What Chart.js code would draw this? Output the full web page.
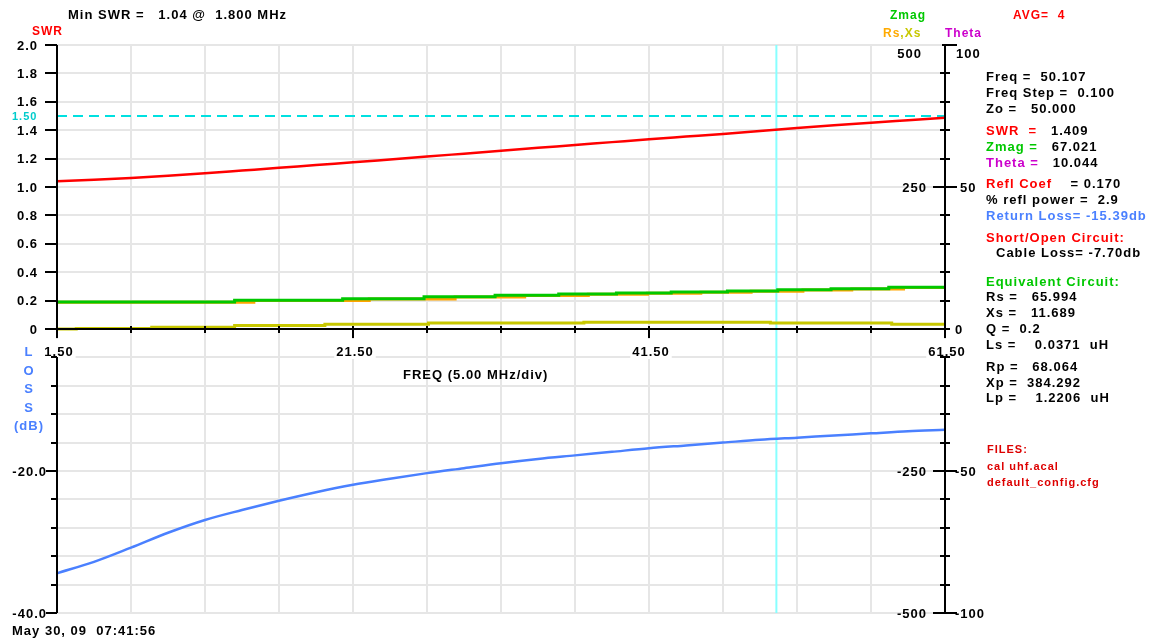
<!DOCTYPE html>
<html>
<head>
<meta charset="utf-8">
<title>SWR / Return Loss sweep</title>
<script src="https://cdn.jsdelivr.net/npm/chart.js@4.4.0/dist/chart.umd.min.js"></script>
<style>
    html, body { margin: 0; padding: 0; background: #fff; }
    #wrap { position: relative; width: 1151px; height: 641px; overflow: hidden; background: #fff; }
    #sweep { position: absolute; left: 0; top: 0; }
    .t {
        position: absolute;
        font: bold 13px "Liberation Sans", Arial, sans-serif;
        letter-spacing: 1px;
        white-space: pre;
        line-height: 16px;
        color: #000;
    }
    .s { font-size: 12px; }
    .xs { font-size: 11px; }
    .red { color: #ff0000; }
    .dred { color: #dd0000; }
    .green { color: #00c800; }
    .mag { color: #cc00cc; }
    .blue { color: #4a80ff; }
    .orange { color: #ffaa00; }
    .olive { color: #c8c800; }
    .cyan { color: #00cccc; }
    .loss { left: 0; width: 58px; text-align: center; }
</style>
</head>
<body>
<div id="wrap">
    <canvas id="sweep" width="1151" height="641"></canvas>

    <div class="t" style="left:68px;top:7px">Min SWR =   1.04 @  1.800 MHz</div>
    <div class="t s red" style="left:32px;top:23px">SWR</div>
    <div class="t s green" style="left:890px;top:7px">Zmag</div>
    <div class="t s red" style="left:1013px;top:7px">AVG=  4</div>
    <div class="t s" style="left:883px;top:25px"><span class="orange">Rs</span><span class="olive">,Xs</span></div>
    <div class="t s mag" style="left:945px;top:25px">Theta</div>

    <div class="t xs cyan" style="left:12px;top:108px">1.50</div>

    <div class="t blue loss" style="top:344px">L</div>
    <div class="t blue loss" style="top:363px">O</div>
    <div class="t blue loss" style="top:381px">S</div>
    <div class="t blue loss" style="top:400px">S</div>
    <div class="t blue loss" style="top:418px">(dB)</div>

    <div class="t" style="left:403px;top:367px">FREQ (5.00 MHz/div)</div>
    <div class="t" style="left:12px;top:623px">May 30, 09  07:41:56</div>

    <!-- marker readout panel -->
    <div class="t" style="left:986px;top:69px">Freq =  50.107</div>
    <div class="t" style="left:986px;top:85px">Freq Step =  0.100</div>
    <div class="t" style="left:986px;top:101px">Zo =   50.000</div>
    <div class="t" style="left:986px;top:123px"><span class="red">SWR  =</span>   1.409</div>
    <div class="t" style="left:986px;top:139px"><span class="green">Zmag =</span>   67.021</div>
    <div class="t" style="left:986px;top:155px"><span class="mag">Theta =</span>   10.044</div>
    <div class="t" style="left:986px;top:176px"><span class="red">Refl Coef</span>    = 0.170</div>
    <div class="t" style="left:986px;top:192px">% refl power =  2.9</div>
    <div class="t blue" style="left:986px;top:208px">Return Loss= -15.39db</div>
    <div class="t red" style="left:986px;top:230px">Short/Open Circuit:</div>
    <div class="t" style="left:996px;top:245px">Cable Loss= -7.70db</div>
    <div class="t green" style="left:986px;top:274px">Equivalent Circuit:</div>
    <div class="t" style="left:986px;top:289px">Rs =   65.994</div>
    <div class="t" style="left:986px;top:305px">Xs =   11.689</div>
    <div class="t" style="left:986px;top:321px">Q =  0.2</div>
    <div class="t" style="left:986px;top:337px">Ls =    0.0371  uH</div>
    <div class="t" style="left:986px;top:359px">Rp =   68.064</div>
    <div class="t" style="left:986px;top:375px">Xp =  384.292</div>
    <div class="t" style="left:986px;top:390px">Lp =    1.2206  uH</div>
    <div class="t xs dred" style="left:987px;top:441px">FILES:</div>
    <div class="t xs dred" style="left:987px;top:458px">cal uhf.acal</div>
    <div class="t xs dred" style="left:987px;top:474px">default_config.cfg</div>
</div>

<script>
// Sweep readings (MHz)
const freq = [1.5, 4, 6.5, 9, 11.5, 14, 16.5, 19, 21.5, 24, 26.5, 29, 31.5,
              34, 36.5, 39, 41.5, 44, 46.5, 49, 51.5, 54, 56.5, 59, 61.5];
const swr = [1.041, 1.051, 1.063, 1.079, 1.097, 1.116, 1.135, 1.155, 1.174, 1.194, 1.214, 1.235, 1.256,
             1.276, 1.296, 1.316, 1.336, 1.355, 1.374, 1.395, 1.416, 1.435, 1.453, 1.470, 1.487];
const returnLoss = [-34.4, -32.8, -30.8, -28.7, -26.9, -25.5, -24.2, -23.0, -21.95, -21.1, -20.3, -19.6, -18.9,
                    -18.3, -17.8, -17.3, -16.8, -16.4, -16.0, -15.6, -15.3, -15.0, -14.7, -14.4, -14.2];

// Impedance traces are quantized, so they are kept as steps (start freq, ohms)
const zmagFreq = [1.5, 13.5, 20.8, 26.3, 31.1, 35.4, 39.3, 43.0, 46.8, 50.2, 53.8, 57.7, 61.5];
const zmag = [47.5, 50.5, 53.3, 56.9, 59.3, 61.6, 63.4, 65.1, 66.9, 69.2, 71.0, 73.4, 73.4];
const rsFreq = [1.5, 14.8, 22.6, 28.4, 33.1, 37.4, 41.4, 45.0, 48.4, 51.9, 55.2, 58.7, 61.5];
const rs = [47.0, 50.0, 52.8, 56.4, 58.8, 61.1, 62.9, 64.6, 66.4, 68.7, 70.5, 72.9, 72.9];
const xsFreq = [1.5, 2.8, 7.9, 13.5, 19.6, 26.6, 37.1, 49.7, 57.9, 61.5];
const xs = [0, 1, 3, 6, 8.5, 10.5, 12, 10.5, 8.5, 8.5];

const cursorFreq = 50.107;
const swrLimit = 1.5;

// Axis ticks and labels
const freqGrid = [1.5, 6.5, 11.5, 16.5, 21.5, 26.5, 31.5, 36.5, 41.5, 46.5, 51.5, 56.5, 61.5];
const freqLabels = ['1.50', '21.50', '41.50', '61.50'];
const swrTicks = [0, 0.2, 0.4, 0.6, 0.8, 1.0, 1.2, 1.4, 1.6, 1.8, 2.0];
const swrLabels = ['0', '0.2', '0.4', '0.6', '0.8', '1.0', '1.2', '1.4', '1.6', '1.8', '2.0'];
const lossTicks = [-4, -8, -12, -16, -20, -24, -28, -32, -36, -40];
const lossLabels = ['-20.0', '-40.0'];
const zTicks = [500, 450, 400, 350, 300, 250, 200, 150, 100, 50, 0, -50, -100, -150, -200, -250, -300, -350, -400, -450, -500];
const zLabels = ['500', '250', '-250', '-500'];
const thetaLabels = ['100', '50', '0', '-50', '-100'];

function pts(xv, yv) {
    return xv.map((x, i) => ({ x: x, y: yv[i] }));
}

const FONT = 'bold 13px "Liberation Sans", Arial, sans-serif';

function text(ctx, str, px, py, align) {
    ctx.textAlign = align;
    ctx.fillText(str, px, py + 4.6);
}

// Grid, axes and tick labels drawn from the chart's own scales
const sweepFrame = {
    id: 'sweepFrame',
    beforeDatasetsDraw(chart) {
        const { ctx, chartArea: a } = chart;
        const { x, ySwr, yLoss } = chart.scales;
        ctx.save();
        ctx.strokeStyle = '#e6e6e6';
        ctx.lineWidth = 2;
        ctx.beginPath();
        freqGrid.forEach(f => {
            const px = Math.round(x.getPixelForValue(f));
            ctx.moveTo(px, a.top);
            ctx.lineTo(px, a.bottom);
        });
        swrTicks.forEach(v => {
            const py = Math.round(ySwr.getPixelForValue(v));
            ctx.moveTo(a.left, py);
            ctx.lineTo(a.right, py);
        });
        lossTicks.forEach(v => {
            const py = Math.round(yLoss.getPixelForValue(v));
            ctx.moveTo(a.left, py);
            ctx.lineTo(a.right, py);
        });
        ctx.stroke();
        ctx.restore();
    },
    afterDatasetsDraw(chart) {
        const { ctx, chartArea: a } = chart;
        const { x, ySwr, yLoss, yZ, yTheta } = chart.scales;
        const y0 = Math.round(ySwr.getPixelForValue(0));
        const lowTop = Math.round(yLoss.getPixelForValue(lossTicks[0]));
        const L = a.left, R = a.right;

        ctx.save();
        ctx.font = FONT;
        ctx.letterSpacing = '1px';
        ctx.fillStyle = '#000';
        ctx.strokeStyle = '#000';
        ctx.lineWidth = 2;

        // frequency labels sit on white boxes between the two panels
        freqLabels.forEach(lbl => {
            const px = x.getPixelForValue(parseFloat(lbl)) + 2;
            const w = ctx.measureText(lbl).width;
            ctx.fillStyle = '#fff';
            ctx.fillRect(px - w / 2 - 2, y0 + 10, w + 4, lowTop - y0 - 8);
            ctx.fillStyle = '#000';
            text(ctx, lbl, px, y0 + 22, 'center');
        });

        ctx.beginPath();
        // frequency axis
        ctx.moveTo(L, y0);
        ctx.lineTo(R, y0);
        freqGrid.forEach(f => {
            const px = Math.round(x.getPixelForValue(f));
            const major = freqLabels.includes(f.toFixed(2));
            ctx.moveTo(px, y0 - 3);
            ctx.lineTo(px, y0 + (major ? 9 : 4));
        });

        // left axis: SWR above, loss below
        ctx.moveTo(L, a.top);
        ctx.lineTo(L, y0 + 8);
        swrTicks.forEach(v => {
            const py = Math.round(ySwr.getPixelForValue(v));
            ctx.moveTo(L - 12, py);
            ctx.lineTo(L, py);
        });
        ctx.moveTo(L, lowTop);
        ctx.lineTo(L, a.bottom);
        lossTicks.forEach(v => {
            const py = Math.round(yLoss.getPixelForValue(v));
            ctx.moveTo(L - (lossLabels.includes(v.toFixed(1)) ? 11 : 6), py);
            ctx.lineTo(L, py);
        });

        // right axis: impedance / theta
        ctx.moveTo(R, a.top);
        ctx.lineTo(R, y0 + 4);
        ctx.moveTo(R, lowTop);
        ctx.lineTo(R, a.bottom);
        zTicks.forEach(v => {
            const py = Math.round(yZ.getPixelForValue(v));
            if (py > y0 + 4 && py < lowTop) return;
            let l = 5, r = 5;
            if (v === 500) { l = 3; r = 12; }
            if (Math.abs(v) === 250 || v === -500) { l = 12; r = 12; }
            ctx.moveTo(R - l, py);
            ctx.lineTo(R + r, py);
        });
        ctx.stroke();

        swrTicks.forEach((v, i) => {
            text(ctx, swrLabels[i], L - 19, ySwr.getPixelForValue(v), 'right');
        });
        lossLabels.forEach(lbl => {
            text(ctx, lbl, L - 10, yLoss.getPixelForValue(parseFloat(lbl)), 'right');
        });

        zLabels.forEach(lbl => {
            const v = parseFloat(lbl);
            let py = yZ.getPixelForValue(v);
            if (v === 500) py += 8;
            text(ctx, lbl, R - (v === 500 ? 23 : 18), py, 'right');
        });
        thetaLabels.forEach(lbl => {
            const v = parseFloat(lbl);
            let py = yTheta.getPixelForValue(v);
            let px = R + 10;
            if (v === 100) { py += 8; px = R + 11; }
            if (v === 50) px = R + 15;
            text(ctx, lbl, px, py, 'left');
        });
        ctx.restore();
    }
};

const ctx = document.getElementById('sweep').getContext('2d');
new Chart(ctx, {
    type: 'line',
    data: {
        datasets: [
            {
                label: 'SWR',
                data: pts(freq, swr),
                yAxisID: 'ySwr',
                borderColor: '#ff0000',
                borderWidth: 2.5,
                cubicInterpolationMode: 'monotone'
            },
            {
                label: 'Zmag',
                data: pts(zmagFreq, zmag),
                yAxisID: 'yZ',
                borderColor: '#00c800',
                borderWidth: 3,
                stepped: true
            },
            {
                label: 'Rs',
                data: pts(rsFreq, rs),
                yAxisID: 'yZ',
                borderColor: '#ffa500',
                borderWidth: 3,
                stepped: true
            },
            {
                label: 'Xs',
                data: pts(xsFreq, xs),
                yAxisID: 'yZ',
                borderColor: '#c8c800',
                borderWidth: 3,
                stepped: true
            },
            {
                label: 'Return Loss',
                data: pts(freq, returnLoss),
                yAxisID: 'yLoss',
                borderColor: '#4a80ff',
                borderWidth: 2.5,
                cubicInterpolationMode: 'monotone'
            },
            {
                label: 'SWR limit',
                data: [{ x: freq[0], y: swrLimit }, { x: freq[freq.length - 1], y: swrLimit }],
                yAxisID: 'ySwr',
                borderColor: '#00e0e0',
                borderWidth: 2,
                borderDash: [10, 6]
            },
            {
                label: 'Marker',
                data: [{ x: cursorFreq, y: 2 }, { x: cursorFreq, y: -2 }],
                yAxisID: 'ySwr',
                borderColor: '#88ffff',
                borderWidth: 2
            }
        ]
    },
    options: {
        responsive: false,
        animation: false,
        devicePixelRatio: 1,
        layout: { padding: { left: 57, right: 206, top: 45, bottom: 28 } },
        elements: { point: { radius: 0 } },
        plugins: {
            legend: { display: false },
            tooltip: { enabled: false }
        },
        scales: {
            x: { type: 'linear', min: 1.5, max: 61.5, display: false },
            ySwr: { type: 'linear', min: -2, max: 2, display: false },
            yLoss: { type: 'linear', min: -40, max: 40, display: false },
            yZ: { type: 'linear', min: -500, max: 500, display: false },
            yTheta: { type: 'linear', min: -100, max: 100, display: false }
        }
    },
    plugins: [sweepFrame]
});
</script>
</body>
</html>
